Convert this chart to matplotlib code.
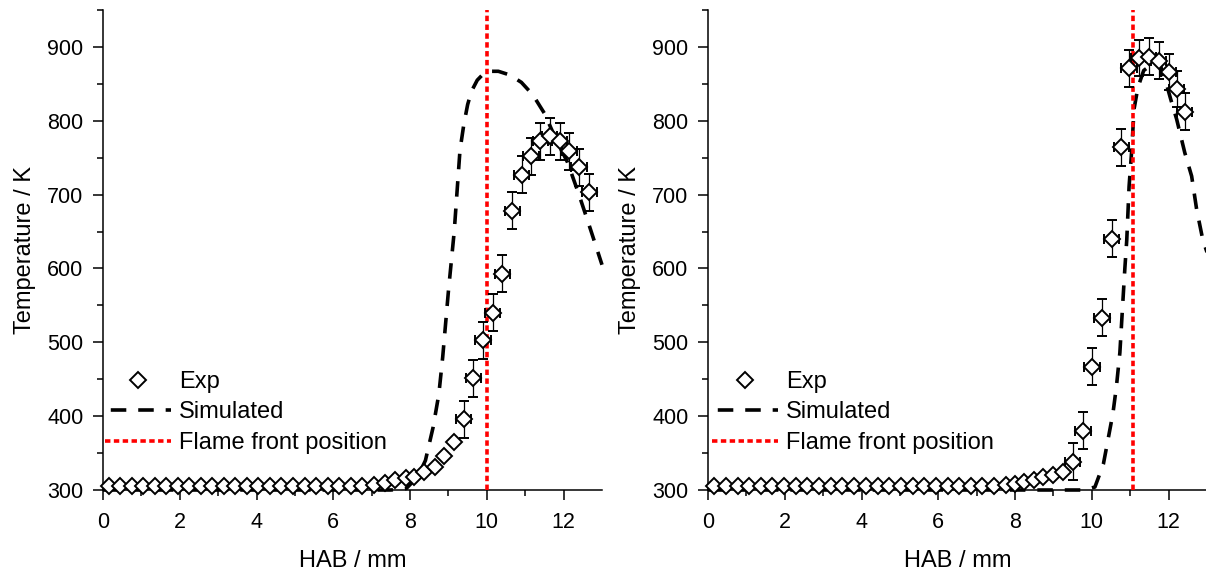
import numpy as np
import matplotlib
matplotlib.use("Agg")
import matplotlib.pyplot as plt
from matplotlib.lines import Line2D

plt.rcParams['font.family'] = ['Liberation Sans', 'DejaVu Sans']

# ---- left panel data ----
exp1_x = [0.15, 0.45, 0.75, 1.05, 1.35, 1.65, 1.95, 2.25, 2.55, 2.85, 3.15, 3.45, 3.75,
          4.05, 4.35, 4.65, 4.95, 5.25, 5.55, 5.85, 6.15, 6.45, 6.75, 7.05, 7.35,
          7.62, 7.89, 8.10, 8.36, 8.64, 8.88, 9.14, 9.40, 9.65, 9.90, 10.15, 10.40,
          10.66, 10.91, 11.15, 11.39, 11.64, 11.90, 12.15, 12.40, 12.67]
exp1_T = [305, 305, 305, 305, 305, 305, 305, 305, 305, 305, 305, 305, 305,
          305, 305, 305, 305, 305, 305, 305, 305, 305, 306, 307, 309,
          313, 316, 318, 324, 331, 346, 365, 396, 451, 503, 540, 593,
          678, 727, 752, 772, 779, 772, 759, 737, 703]
exp1_yerr = [0] * 32 + [25] * 14
exp1_xerr = [0] * 32 + [0.2] * 14

sim1_x = [0, 7.5, 7.9, 8.2, 8.4, 8.6, 8.75, 8.85, 9.0, 9.15, 9.3, 9.4, 9.5, 9.6,
          9.75, 9.9, 10.05, 10.3, 10.6, 10.9, 11.2, 11.5, 11.8, 12.1, 12.4, 12.7, 13.0]
sim1_T = [300, 300, 302, 318, 340, 385, 430, 480, 570, 650, 760, 795, 822, 840,
          855, 863, 867, 867, 862, 852, 835, 810, 775, 744, 700, 653, 605]
flame1 = 10.0

# ---- right panel data ----
exp2_x = [0.16, 0.46, 0.77, 1.07, 1.38, 1.68, 1.98, 2.29, 2.59, 2.90, 3.20, 3.50, 3.81,
          4.11, 4.42, 4.72, 5.02, 5.33, 5.63, 5.94, 6.24, 6.54, 6.85, 7.15, 7.46, 7.76,
          8.00, 8.23, 8.49, 8.72, 8.98, 9.24, 9.50, 9.77, 10.00, 10.26, 10.52, 10.77,
          10.97, 11.22, 11.48, 11.74, 12.00, 12.21, 12.42]
exp2_T = [305, 305, 305, 305, 305, 305, 305, 305, 305, 305, 305, 305, 305,
          305, 305, 305, 305, 305, 305, 305, 305, 305, 305, 306, 306, 307,
          308, 311, 314, 318, 320, 324, 338, 380, 467, 533, 640, 764,
          871, 885, 887, 881, 866, 843, 812]
exp2_yerr = [0] * 32 + [25] * 13
exp2_xerr = [0] * 32 + [0.2] * 13

sim2_x = [0, 9.8, 10.08, 10.3, 10.42, 10.55, 10.64, 10.73, 10.8, 10.86, 10.91, 10.97,
          11.04, 11.1, 11.2, 11.35, 11.5, 11.65, 11.77, 11.9, 12.05, 12.21, 12.42,
          12.6, 12.73, 12.89, 13.0]
sim2_T = [300, 300, 304, 335, 368, 404, 440, 486, 548, 600, 639, 711,
          761, 816, 845, 868, 874, 876, 877, 858, 830, 802, 757,
          725, 680, 639, 622]
flame2 = 11.07

lw = 2.6
sim_style = (0, (4.3, 3.3))
flame_style = (0, (1.5, 0.95))

fig = plt.figure(figsize=(12.06, 5.74), dpi=100)
ax1 = fig.add_axes([103 / 1206, 1 - 490 / 574, 499 / 1206, 480 / 574])
ax2 = fig.add_axes([708 / 1206, 1 - 490 / 574, 499 / 1206, 480 / 574])

panels = [
    (ax1, exp1_x, exp1_T, exp1_xerr, exp1_yerr, sim1_x, sim1_T, flame1, 0.004),
    (ax2, exp2_x, exp2_T, exp2_xerr, exp2_yerr, sim2_x, sim2_T, flame2, 0.008),
]

for ax, ex, eT, exe, eye, sx, sT, fl, legx in panels:
    ax.plot(sx, sT, color='black', lw=lw, linestyle=sim_style,
            zorder=2, clip_on=False)
    ax.axvline(fl, color='red', lw=lw, linestyle=flame_style, zorder=3)
    ax.errorbar(ex, eT, xerr=exe, yerr=eye, fmt='D', ms=8.4, mfc='white',
                mec='black', mew=1.4, ecolor='black', elinewidth=0.9,
                capsize=3.6, capthick=0.9, zorder=4, clip_on=False)

    ax.set_xlim(0, 13)
    ax.set_ylim(300, 950)
    ax.set_xticks([0, 2, 4, 6, 8, 10, 12])
    ax.set_xticks(np.arange(1, 13, 2), minor=True)
    ax.set_yticks([300, 400, 500, 600, 700, 800, 900])
    ax.set_yticks(np.arange(350, 951, 100), minor=True)
    for s in ['top', 'right']:
        ax.spines[s].set_visible(False)
    for s in ['left', 'bottom']:
        ax.spines[s].set_linewidth(1.1)
    ax.tick_params(which='major', direction='out', length=7, width=1.1,
                   labelsize=15.5, pad=7)
    ax.tick_params(axis='x', which='major', pad=9)
    ax.tick_params(which='minor', direction='out', length=4, width=1.1)
    ax.set_xlabel('HAB / mm', fontsize=17, labelpad=12)
    ax.set_ylabel('Temperature / K', fontsize=17, labelpad=8)

    handles = [
        Line2D([], [], ls='none', marker='D', ms=8.4, mfc='white', mec='black', mew=1.4),
        Line2D([], [], color='black', lw=lw, linestyle=(6.0, (4.3, 3.3))),
        Line2D([], [], color='red', lw=lw, linestyle=flame_style),
    ]
    ax.legend(handles, ['Exp', 'Simulated', 'Flame front position'], loc='lower left',
              bbox_to_anchor=(legx, 0.075), frameon=False, fontsize=17,
              handlelength=2.8, handletextpad=0.35, labelspacing=0.36,
              borderpad=0, borderaxespad=0)

fig.savefig('out.png', dpi=100)
